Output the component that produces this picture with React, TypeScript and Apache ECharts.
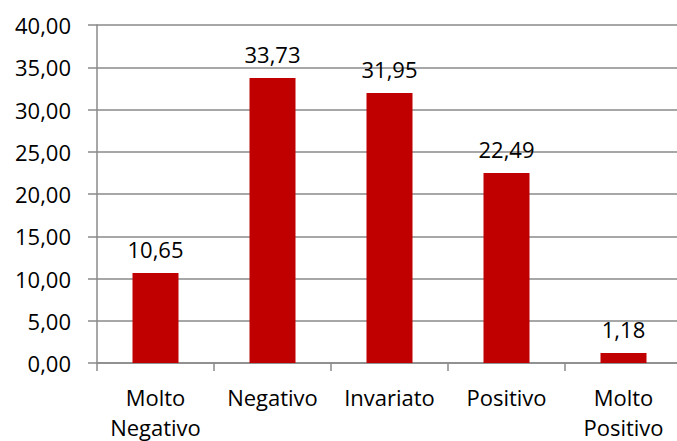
import React, { useEffect, useRef } from "react";
import * as echarts from "echarts";

const categories = ["Molto\nNegativo", "Negativo", "Invariato", "Positivo", "Molto\nPositivo"];
const values = [10.65, 33.73, 31.95, 22.49, 1.18];

const fmt = (v: number) => v.toFixed(2).replace(".", ",");

export default function App() {
  const ref = useRef<HTMLDivElement>(null);
  useEffect(() => {
    if (!ref.current) return;
    const chart = echarts.init(ref.current, null, { renderer: "svg" });
    const axisColor = "#8a8a8a";
    const font = "Open Sans";
    chart.setOption({
      animation: false,
      textStyle: { fontFamily: font },
      grid: { left: 97, right: -5, top: 25, bottom: 78, containLabel: false, outerBoundsMode: "none" },
      xAxis: {
        type: "category",
        data: categories,
        axisLine: { show: true, lineStyle: { color: axisColor, width: 1.5 } },
        axisTick: { show: true, length: 8, alignWithLabel: false, lineStyle: { color: axisColor, width: 1.5 } },
        axisLabel: { color: "#000", fontSize: 22, fontFamily: font, margin: 19, lineHeight: 30, interval: 0 },
      },
      yAxis: {
        type: "value",
        min: 0,
        max: 40,
        interval: 5,
        axisLine: { show: true, lineStyle: { color: axisColor, width: 1.5 } },
        axisTick: { show: true, length: 9, lineStyle: { color: axisColor, width: 1.5 } },
        splitLine: { show: true, lineStyle: { color: axisColor, width: 1.5 } },
        axisLabel: { color: "#000", fontSize: 22, fontFamily: font, margin: 26, formatter: (v: number) => fmt(v) },
      },
      series: [
        {
          type: "bar",
          data: values,
          barWidth: 46,
          itemStyle: { color: "#C00000" },
          label: {
            show: true,
            position: "top",
            distance: 13,
            color: "#000",
            fontSize: 22,
            fontFamily: font,
            formatter: (p: any) => fmt(p.value),
          },
        },
      ],
    });
    return () => chart.dispose();
  }, []);
  return <div ref={ref} style={{ width: 677, height: 441, position: "absolute", left: 0, top: 0, background: "#fff" }} />;
}
